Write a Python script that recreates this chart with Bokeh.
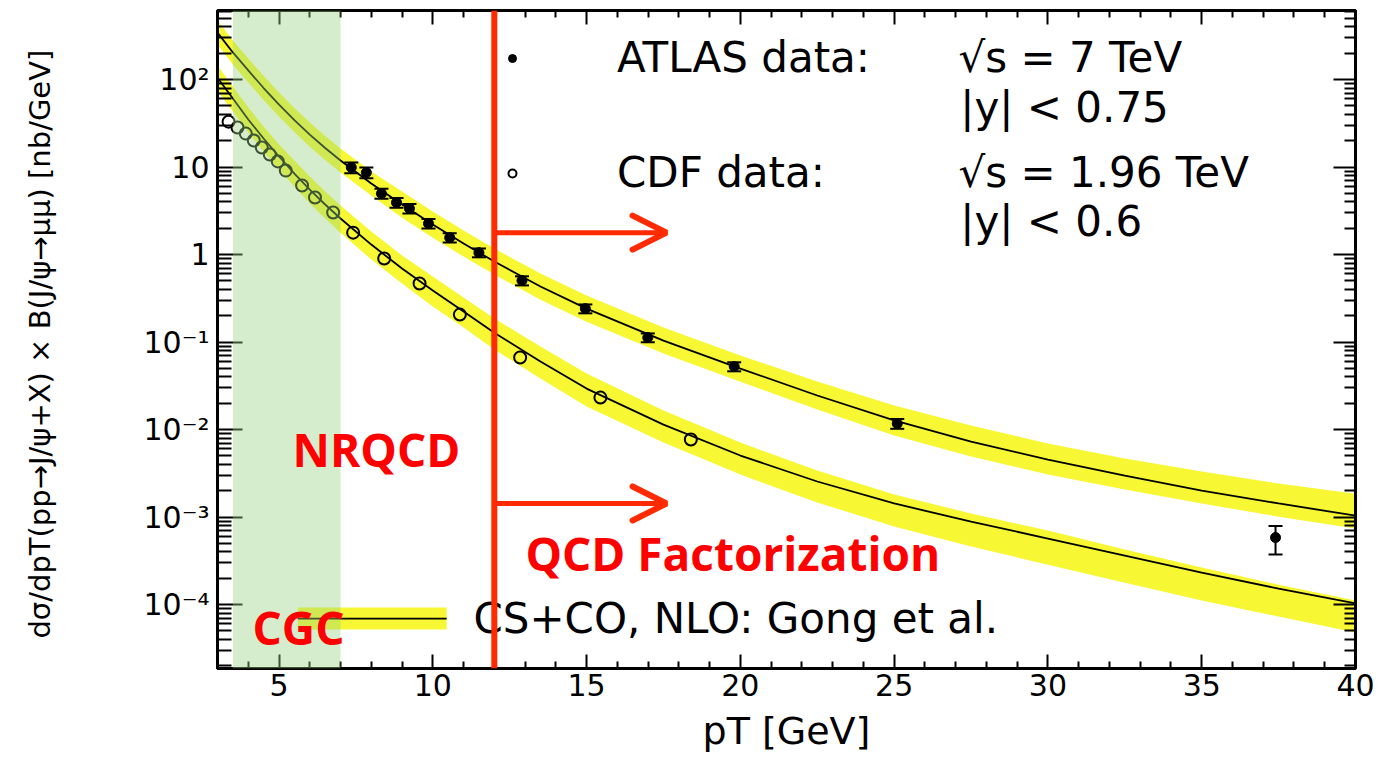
from bokeh.plotting import figure
from bokeh.models import (ColumnDataSource, Range1d, FixedTicker, LinearAxis, LogAxis, Whisker, TeeHead,
                          BoxAnnotation, Span, Arrow, OpenHead, Label, Legend, LegendItem)
from bokeh.embed import file_html
from bokeh.resources import INLINE

# ---------------- data ----------------
atlas_pt = [7.35, 7.84, 8.33, 8.82, 9.24, 9.86, 10.55, 11.5, 12.9, 14.96, 16.99, 19.8, 25.1, 37.4]
atlas_xs = [9.9, 8.65, 4.98, 3.93, 3.36, 2.26, 1.56, 1.05, 0.504, 0.241, 0.1125, 0.0525, 0.0117, 5.83e-4]
atlas_err = [1.4, 1.2, 0.65, 0.5, 0.42, 0.28, 0.19, 0.12, 0.06, 0.028, 0.013, 0.0062, 0.0015, 2.1e-4]

cdf_pt = [3.36, 3.65, 3.92, 4.18, 4.44, 4.70, 4.96, 5.22, 5.75, 6.17, 6.76, 7.41, 8.42, 9.57, 10.88,
          12.84, 15.45, 18.39]
cdf_xs = [33.0, 28.3, 24.1, 20.1, 16.7, 13.9, 11.6, 9.1, 6.15, 4.48, 3.02, 1.78, 0.90, 0.466, 0.206,
          0.0665, 0.0232, 0.0077]

theory_pt = [3, 3.5, 4, 4.5, 5, 5.5, 6, 6.5, 7, 8, 9, 10, 11, 12, 13.5, 15, 17.5, 20, 22.5, 25,
             27.5, 30, 32.5, 35, 37.5, 40]
atlas_nlo = [344, 204, 127, 80.0, 51.8, 34.4, 23.5, 16.5, 11.9, 6.48, 3.73, 2.20, 1.34, 0.832, 0.431,
             0.241, 0.104, 0.0498, 0.0245, 0.0127, 7.29e-3, 4.54e-3, 2.98e-3, 2.01e-3, 1.43e-3, 1.04e-3]
atlas_nlo_hi = [472, 279, 174, 110, 71.0, 47.2, 32.2, 22.6, 16.3, 8.87, 5.25, 3.10, 1.88, 1.17, 0.607,
                0.340, 0.147, 0.0702, 0.0354, 0.0188, 0.0111, 6.92e-3, 4.66e-3, 3.31e-3, 2.42e-3, 1.85e-3]
atlas_nlo_lo = [251, 149, 92.5, 58.3, 37.8, 25.1, 17.1, 12.0, 8.65, 4.72, 2.64, 1.56, 0.948, 0.590, 0.305,
                0.171, 0.0738, 0.0353, 0.0169, 8.55e-3, 4.92e-3, 3.06e-3, 2.06e-3, 1.43e-3, 1.01e-3, 7.38e-4]
cdf_nlo = [105, 60.6, 34.9, 21.2, 13.2, 8.43, 5.53, 3.73, 2.58, 1.30, 0.692, 0.388, 0.223, 0.128, 0.0599,
           0.0294, 0.0114, 5.05e-3, 2.55e-3, 1.43e-3, 8.89e-4, 5.68e-4, 3.63e-4, 2.32e-4, 1.52e-4, 1.03e-4]
cdf_nlo_hi = [145, 83.2, 47.9, 29.0, 18.1, 11.9, 7.80, 5.25, 3.63, 1.83, 0.975, 0.561, 0.323, 0.186, 0.0887,
              0.0437, 0.0165, 7.11e-3, 3.40e-3, 1.81e-3, 1.10e-3, 7.00e-4, 4.26e-4, 2.65e-4, 1.69e-4, 1.11e-4]
cdf_nlo_lo = [74.8, 43.1, 24.8, 15.0, 9.35, 5.98, 3.83, 2.58, 1.78, 0.877, 0.467, 0.255, 0.147, 0.0822,
              0.0383, 0.0183, 7.10e-3, 3.06e-3, 1.47e-3, 7.78e-4, 4.60e-4, 2.86e-4, 1.78e-4, 1.11e-4,
              7.29e-5, 4.79e-5]

x_major = [5, 10, 15, 20, 25, 30, 35, 40]
x_minor = [v for v in range(3, 41) if v % 5 != 0]
y_major = [1e-4, 1e-3, 1e-2, 1e-1, 1, 10, 100]
y_labels = ["10\u207b\u2074", "10\u207b\u00b3", "10\u207b\u00b2", "10\u207b\u00b9", "1", "10", "10\u00b2"]
y_minor = [m * 10.0 ** e for e in range(-5, 3) for m in range(2, 10)]

nrqcd_cut = 12.0          # pT where the red vertical line sits
cgc_band = (3.5, 7.0)     # shaded CGC region

RED_LINE = "#ff2a00"
RED_TEXT = "#ff0000"
YELLOW = "#f7f733"
FONT = "DejaVu Sans"

# ---------------- figure ----------------
p = figure(width=1389, height=757, x_range=Range1d(3, 40), y_range=Range1d(1.86e-5, 615),
           y_axis_type="log", output_backend="svg", toolbar_location=None,
           min_border_left=217, min_border_right=34, min_border_top=10, min_border_bottom=89)
p.grid.visible = False
p.outline_line_color = "black"
p.outline_line_width = 3
p.background_fill_color = "white"

xt = FixedTicker(ticks=x_major, minor_ticks=x_minor)
yt = FixedTicker(ticks=y_major, minor_ticks=y_minor)


def style_axis(ax, major_in, minor_in):
    ax.axis_line_width = 3
    ax.axis_line_color = "black"
    ax.major_tick_in = major_in
    ax.major_tick_out = 0
    ax.minor_tick_in = minor_in
    ax.minor_tick_out = 0
    ax.major_tick_line_width = 2
    ax.minor_tick_line_width = 2
    ax.major_tick_line_color = "black"
    ax.minor_tick_line_color = "black"


xb = p.below[0]
xb.ticker = xt
style_axis(xb, 14, 7)
xb.major_label_text_font = FONT
xb.major_label_text_font_size = "30px"
xb.major_label_text_color = "black"
xb.major_label_standoff = 5
xb.axis_label = "pT [GeV]"
xb.axis_label_text_font = FONT
xb.axis_label_text_font_size = "38px"
xb.axis_label_text_font_style = "normal"
xb.axis_label_text_color = "black"
xb.axis_label_standoff = 10

yl = p.left[0]
yl.ticker = yt
style_axis(yl, 25, 14)
yl.major_label_overrides = {v: s for v, s in zip(y_major, y_labels)}
yl.major_label_text_font = FONT
yl.major_label_text_font_size = "30px"
yl.major_label_text_color = "black"
yl.major_label_standoff = 8
yl.axis_label = "d\u03c3/dpT(pp\u2192J/\u03c8+X) \u00d7 B(J/\u03c8\u2192\u03bc\u03bc)  [nb/GeV]"
yl.axis_label_text_font = FONT
yl.axis_label_text_font_size = "29px"
yl.axis_label_text_font_style = "normal"
yl.axis_label_text_color = "black"
yl.axis_label_standoff = 83

# mirror axes (ticks only, no labels)
xt_ax = LinearAxis(ticker=xt, major_label_overrides={v: "" for v in x_major},
                   major_label_text_font_size="10px", major_label_standoff=0)
style_axis(xt_ax, 14, 7)
p.add_layout(xt_ax, "above")
yr_ax = LogAxis(ticker=yt, major_label_overrides={v: "" for v in y_major},
                major_label_text_font_size="10px", major_label_standoff=0)
style_axis(yr_ax, 22, 11)
p.add_layout(yr_ax, "right")

# ---------------- theory bands and curves ----------------
p.varea(x=theory_pt, y1=atlas_nlo_lo, y2=atlas_nlo_hi, fill_color=YELLOW)
p.varea(x=theory_pt, y1=cdf_nlo_lo, y2=cdf_nlo_hi, fill_color=YELLOW)
p.line(theory_pt, atlas_nlo, line_color="black", line_width=1.8)
p.line(theory_pt, cdf_nlo, line_color="black", line_width=1.8)

# ---------------- data points ----------------
err_src = ColumnDataSource(dict(x=atlas_pt,
                                upper=[v + e for v, e in zip(atlas_xs, atlas_err)],
                                lower=[v - e for v, e in zip(atlas_xs, atlas_err)]))
whisk = Whisker(source=err_src, base="x", upper="upper", lower="lower", dimension="height",
                line_width=2, line_color="black", level="annotation",
                upper_head=TeeHead(size=14, line_width=2, line_color="black"),
                lower_head=TeeHead(size=14, line_width=2, line_color="black"))
p.add_layout(whisk)
atlas_r = p.scatter(atlas_pt, atlas_xs, size=10, marker="circle", fill_color="black", line_color="black")
cdf_r = p.scatter(cdf_pt, cdf_xs, size=12, marker="circle", fill_color=None, line_color="black",
                  line_width=2)

# ---------------- legends ----------------
leg1 = Legend(items=[LegendItem(label="ATLAS data:", renderers=[atlas_r]),
                     LegendItem(label="CDF data:", renderers=[cdf_r])],
              location=(285, 471), orientation="vertical", glyph_width=20, glyph_height=30,
              label_standoff=95, spacing=66, padding=0, margin=0,
              border_line_alpha=0, background_fill_alpha=0,
              label_text_font=FONT, label_text_font_size="42px", label_text_color="black")
p.add_layout(leg1)

# theory key, bottom-left (band sample + line + text)
key_x0, key_x1 = 5.61, 10.45
key_lo, key_mid, key_hi = 5.18e-5, 6.92e-5, 9.24e-5
p.quad(left=[key_x0], right=[key_x1], bottom=[key_lo], top=[key_hi], fill_color=YELLOW, line_alpha=0)
p.segment(x0=[key_x0], y0=[key_mid], x1=[key_x1], y1=[key_mid], line_color="black", line_width=1.8)
p.add_layout(Label(x=11.32, y=key_mid, text="CS+CO, NLO: Gong et al.", text_font=FONT,
                   text_font_size="42px", text_color="black", text_baseline="middle"))

for (tx, ty, txt) in [(27.09, 178, "\u221as = 7 TeV"), (27.15, 47.9, "|y| < 0.75"),
                      (27.09, 8.65, "\u221as = 1.96 TeV"), (27.15, 2.38, "|y| < 0.6")]:
    p.add_layout(Label(x=tx, y=ty, text=txt, text_font=FONT, text_font_size="42px",
                       text_color="black", text_baseline="middle"))

# ---------------- CGC shaded region ----------------
p.add_layout(BoxAnnotation(left=cgc_band[0], right=cgc_band[1], fill_color=(150, 210, 130),
                           fill_alpha=0.4, line_alpha=0, level="overlay"))

# ---------------- red annotations ----------------
p.add_layout(Span(location=nrqcd_cut, dimension="height", line_color=RED_LINE, line_width=6,
                  level="overlay"))
for ya in [1.78, 1.43e-3]:
    p.add_layout(Arrow(x_start=nrqcd_cut, y_start=ya, x_end=17.6, y_end=ya,
                       line_color=RED_LINE, line_width=5, level="overlay",
                       end=OpenHead(size=34, line_color=RED_LINE, line_width=6, line_cap="round")))

for (tx, ty, txt) in [(5.44, 6.07e-3, "NRQCD"), (13.01, 3.93e-4, "QCD Factorization"),
                      (4.14, 5.6e-5, "CGC")]:
    p.add_layout(Label(x=tx, y=ty, text=txt, text_font="Open Sans", text_font_style="bold",
                       text_font_size="46px", text_color=RED_TEXT, text_baseline="middle",
                       level="overlay"))

open("out.html", "w").write(file_html(p, INLINE))
